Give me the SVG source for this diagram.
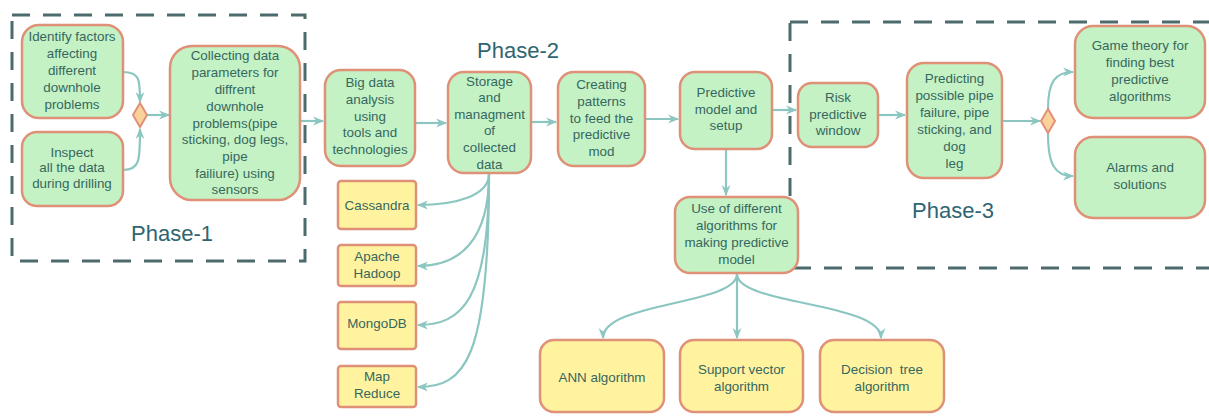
<svg xmlns="http://www.w3.org/2000/svg" width="1209" height="416" viewBox="0 0 1209 416">
<defs>
<style>
.g{fill:#c4f2c4;stroke:#df9178;stroke-width:2.5}
.y{fill:#fff3a0;stroke:#df9178;stroke-width:2.5}
.d{fill:#fbd39a;stroke:#df9178;stroke-width:2}
.t{font-family:"Liberation Sans",Arial,sans-serif;font-size:13.4px;fill:#36675f;text-anchor:middle;white-space:pre}
.ph{font-family:"Liberation Sans",Arial,sans-serif;font-size:22px;fill:#2f6570;text-anchor:middle}
.c{fill:none;stroke:#8cc6c1;stroke-width:2.2;marker-end:url(#a)}
.dash{fill:none;stroke:#4d6b6d;stroke-width:3;stroke-dasharray:18 13}
</style>
<marker id="a" viewBox="0 0 10 10" refX="9" refY="5" markerWidth="5" markerHeight="5" orient="auto" markerUnits="strokeWidth">
<path d="M0,1 L10,5 L0,9 L3,5 Z" fill="#8cc6c1"/>
</marker>
</defs>
<rect width="1209" height="416" fill="#ffffff"/>
<g id="phase-boxes">
<rect class="dash" x="12" y="15" width="293" height="246"/>
<rect class="dash" x="790" y="22" width="430" height="246"/>
<text class="ph" x="172" y="241">Phase-1</text>
<text class="ph" x="518" y="58">Phase-2</text>
<text class="ph" x="953" y="218">Phase-3</text>
</g>
<g id="connectors">
<path class="c" d="M123,72 C140,72 140,80 140,102"/>
<path class="c" d="M123,170 C140,170 140,160 140,129"/>
<path class="c" d="M147,115 L169,115"/>
<path class="c" d="M300,121 L323,121"/>
<path class="c" d="M415,123 L446,123"/>
<path class="c" d="M531,122 L556,122"/>
<path class="c" d="M645,119 L678,119"/>
<path class="c" d="M772,110 L796,110"/>
<path class="c" d="M878,115 L905,115"/>
<path class="c" d="M1002,121 L1040,121"/>
<path class="c" d="M1048,109 C1048,82 1055,72 1073,72"/>
<path class="c" d="M1048,133 C1048,165 1055,176 1073,176"/>
<path class="c" d="M726,149 L726,195"/>
<path class="c" d="M489,174 C489,196 455,205 418,205"/>
<path class="c" d="M489,174 C489,240 460,266 418,266"/>
<path class="c" d="M489,174 C489,300 462,325 418,325"/>
<path class="c" d="M489,174 C489,360 465,387 418,387"/>
<path class="c" d="M737,274 C737,305 603,302 603,338"/>
<path class="c" d="M737,274 L737,338"/>
<path class="c" d="M737,274 C737,305 881,302 881,338"/>
</g>
<g id="n-identify">
<rect class="g" x="22" y="25" width="101" height="93" rx="17"/>
<text class="t"><tspan x="72" y="41">Identify factors</tspan><tspan x="72" y="58">affecting</tspan><tspan x="72" y="75">different</tspan><tspan x="72" y="92">downhole</tspan><tspan x="72" y="109">problems</tspan></text>
</g>
<g id="n-inspect">
<rect class="g" x="22" y="132" width="101" height="74" rx="15"/>
<text class="t"><tspan x="72" y="156.5">Inspect</tspan><tspan x="72" y="172">all the data</tspan><tspan x="72" y="188">during drilling</tspan></text>
</g>
<g id="d-merge"><path class="d" d="M140,103 L147,115 L140,127 L133,115 Z"/></g>
<g id="n-collecting">
<rect class="g" x="170" y="46" width="130" height="154" rx="22"/>
<text class="t"><tspan x="235" y="59.5">Collecting data</tspan><tspan x="235" y="76.5">parameters for</tspan><tspan x="235" y="93.5">diffrent</tspan><tspan x="235" y="110.5">downhole</tspan><tspan x="235" y="127.5">problems(pipe</tspan><tspan x="235" y="144">sticking, dog legs,</tspan><tspan x="235" y="160.5">pipe</tspan><tspan x="235" y="177.5">failiure) using</tspan><tspan x="235" y="194">sensors</tspan></text>
</g>
<g id="n-bigdata">
<rect class="g" x="325" y="70" width="90" height="96" rx="16"/>
<text class="t"><tspan x="370" y="87">Big data</tspan><tspan x="370" y="104">analysis</tspan><tspan x="370" y="121">using</tspan><tspan x="370" y="137">tools and</tspan><tspan x="370" y="154">technologies</tspan></text>
</g>
<g id="n-storage">
<rect class="g" x="448" y="72" width="83" height="101" rx="16"/>
<text class="t"><tspan x="489.5" y="85.5">Storage</tspan><tspan x="489.5" y="102">and</tspan><tspan x="489.5" y="118.5">managment</tspan><tspan x="489.5" y="135">of</tspan><tspan x="489.5" y="152">collected</tspan><tspan x="489.5" y="169">data</tspan></text>
</g>
<g id="n-creating">
<rect class="g" x="558" y="72" width="87" height="94" rx="16"/>
<text class="t"><tspan x="601.5" y="89">Creating</tspan><tspan x="601.5" y="106">patterns</tspan><tspan x="601.5" y="123">to feed the</tspan><tspan x="601.5" y="139">predictive</tspan><tspan x="601.5" y="155.5">mod</tspan></text>
</g>
<g id="n-predictive">
<rect class="g" x="680" y="72" width="92" height="77" rx="15"/>
<text class="t"><tspan x="726" y="97">Predictive</tspan><tspan x="726" y="113.5">model and</tspan><tspan x="726" y="129.5">setup</tspan></text>
</g>
<g id="n-risk">
<rect class="g" x="798" y="83" width="80" height="64" rx="14"/>
<text class="t"><tspan x="838" y="102">Risk</tspan><tspan x="838" y="118.5">predictive</tspan><tspan x="838" y="135">window</tspan></text>
</g>
<g id="n-predicting">
<rect class="g" x="907" y="63" width="95" height="115" rx="17"/>
<text class="t"><tspan x="954.5" y="83">Predicting</tspan><tspan x="954.5" y="100">possible pipe</tspan><tspan x="954.5" y="117">failure, pipe</tspan><tspan x="954.5" y="133.5">sticking, and</tspan><tspan x="954.5" y="150.5">dog</tspan><tspan x="954.5" y="168">leg</tspan></text>
</g>
<g id="d-split"><path class="d" d="M1048,109 L1055,121 L1048,133 L1041,121 Z"/></g>
<g id="n-game">
<rect class="g" x="1075" y="26" width="130" height="92" rx="18"/>
<text class="t"><tspan x="1140" y="49.5">Game theory for</tspan><tspan x="1140" y="67">finding best</tspan><tspan x="1140" y="84">predictive</tspan><tspan x="1140" y="101">algorithms</tspan></text>
</g>
<g id="n-alarms">
<rect class="g" x="1075" y="137" width="130" height="81" rx="18"/>
<text class="t"><tspan x="1140" y="172">Alarms and</tspan><tspan x="1140" y="188.5">solutions</tspan></text>
</g>
<g id="n-use">
<rect class="g" x="675" y="197" width="123" height="76" rx="15"/>
<text class="t"><tspan x="736.5" y="212.5">Use of different</tspan><tspan x="736.5" y="230">algorithms for</tspan><tspan x="736.5" y="247">making predictive</tspan><tspan x="736.5" y="264">model</tspan></text>
</g>
<g id="n-cassandra">
<rect class="y" x="338" y="181" width="78" height="48" rx="3"/>
<text class="t" x="377" y="209.5">Cassandra</text>
</g>
<g id="n-hadoop">
<rect class="y" x="338" y="245" width="78" height="41" rx="3"/>
<text class="t"><tspan x="377" y="260.5">Apache</tspan><tspan x="377" y="278">Hadoop</tspan></text>
</g>
<g id="n-mongodb">
<rect class="y" x="338" y="302" width="78" height="47" rx="3"/>
<text class="t" x="377" y="328">MongoDB</text>
</g>
<g id="n-mapreduce">
<rect class="y" x="338" y="366" width="78" height="41" rx="3"/>
<text class="t"><tspan x="377" y="381">Map</tspan><tspan x="377" y="398">Reduce</tspan></text>
</g>
<g id="n-ann">
<rect class="y" x="540" y="340" width="124" height="72" rx="14"/>
<text class="t" x="602" y="382">ANN algorithm</text>
</g>
<g id="n-svm">
<rect class="y" x="680" y="340" width="123" height="72" rx="14"/>
<text class="t"><tspan x="741.5" y="374">Support vector</tspan><tspan x="741.5" y="390.5">algorithm</tspan></text>
</g>
<g id="n-tree">
<rect class="y" x="820" y="340" width="124" height="72" rx="14"/>
<text class="t"><tspan x="882" y="374">Decision  tree</tspan><tspan x="882" y="390.5">algorithm</tspan></text>
</g>
</svg>
